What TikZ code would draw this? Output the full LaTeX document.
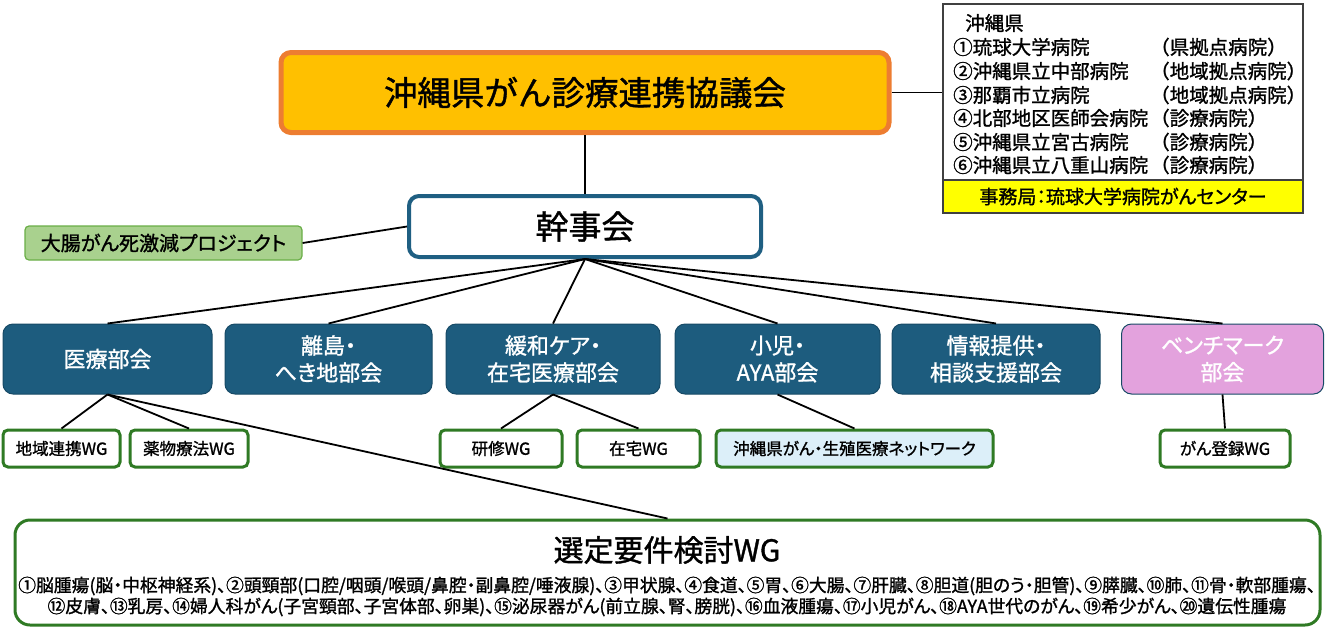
\documentclass[tikz,border=0pt]{standalone}
\usepackage{fontspec}
\setmainfont{Noto Sans CJK JP}[FakeBold=1.2]
\newfontfamily\paltfont{Noto Sans CJK JP}[FakeBold=1.2,RawFeature=+palt]
\definecolor{orfill}{HTML}{FFC000}
\definecolor{orline}{HTML}{ED7D31}
\definecolor{bkfill}{HTML}{1D5C7E}
\definecolor{bkline}{HTML}{174A66}
\definecolor{kjline}{HTML}{1F5F82}
\definecolor{pinkfill}{HTML}{E3A2DD}
\definecolor{wggreen}{HTML}{2F7A24}
\definecolor{pjfill}{HTML}{A9D18E}
\definecolor{pjline}{HTML}{6AAE47}
\definecolor{ltblue}{HTML}{DCEFF9}
\definecolor{ylw}{HTML}{FFFF00}
\begin{document}
\begin{tikzpicture}[x=1pt,y=-1pt,
  conn/.style={line width=1.8pt, black},
  bukai/.style={draw=bkline, fill=bkfill, rounded corners=10pt, line width=1pt, text=white,
    inner sep=0pt, minimum height=70pt, align=center, font=\paltfont\fontsize{22}{27}\selectfont},
  wgbox/.style={draw=wggreen, fill=white, line width=3pt, rounded corners=5pt, inner sep=0pt,
    minimum height=37pt, font=\paltfont\fontsize{16.5}{18}\selectfont},
  rtxt/.style={anchor=west, inner sep=0pt, font=\fontsize{19.5}{22}\selectfont}]
\useasboundingbox (0,0) rectangle (1326,630);

% top
\node[draw=orline, fill=orfill, line width=5pt, rounded corners=10pt, inner sep=0pt,
  minimum width=608pt, minimum height=80pt, font=\fontsize{33.5}{38}\selectfont] (main) at (585,92.5) {沖縄県がん診療連携協議会};

% right box
\node[draw=black!75, line width=1.2pt, fill=white, inner sep=0pt, minimum width=360pt, minimum height=209pt] (rbox) at (1123,108.5) {};
\node[draw=black!75, line width=1.2pt, fill=ylw, inner sep=0pt, minimum width=360pt, minimum height=33pt,
  font=\paltfont\fontsize{19}{22}\selectfont] (jimu) at (1123,196.5) {事務局：琉球大学病院がんセンター};
\node[rtxt] (r0) at (965,23) {沖縄県};
\node[rtxt] (r1) at (953,47) {①琉球大学病院};
\node[rtxt] (r1b) at (1150,47) {（県拠点病院）};
\node[rtxt] (r2) at (953,71) {②沖縄県立中部病院};
\node[rtxt] (r2b) at (1150,71) {（地域拠点病院）};
\node[rtxt] (r3) at (953,95) {③那覇市立病院};
\node[rtxt] (r3b) at (1150,95) {（地域拠点病院）};
\node[rtxt] (r4) at (953,118) {④北部地区医師会病院};
\node[rtxt] (r4b) at (1150,118) {（診療病院）};
\node[rtxt] (r5) at (953,142) {⑤沖縄県立宮古病院};
\node[rtxt] (r5b) at (1150,142) {（診療病院）};
\node[rtxt] (r6) at (953,165) {⑥沖縄県立八重山病院};
\node[rtxt] (r6b) at (1150,165) {（診療病院）};

% kanjikai
\node[draw=kjline, fill=white, line width=4pt, rounded corners=10pt, inner sep=0pt,
  minimum width=352pt, minimum height=61pt, font=\fontsize{33}{38}\selectfont] (kanji) at (585,226.5) {幹事会};
\node[draw=pjline, fill=pjfill, line width=1.2pt, rounded corners=4pt, inner sep=0pt,
  minimum width=277pt, minimum height=34pt, font=\paltfont\fontsize{20}{22}\selectfont] (proj) at (163.5,243) {大腸がん死激減プロジェクト};

% bukai
\node[bukai, minimum width=209pt] (b1) at (107.5,359) {医療部会};
\node[bukai, minimum width=207pt] (b2) at (328.5,359) {離島・\\へき地部会};
\node[bukai, minimum width=214pt] (b3) at (553,359) {緩和ケア・\\在宅医療部会};
\node[bukai, minimum width=205pt] (b4) at (777.5,359) {小児・\\AYA部会};
\node[bukai, minimum width=208pt] (b5) at (996,359) {情報提供・\\相談支援部会};
\node[bukai, fill=pinkfill, minimum width=202pt] (b6) at (1222.5,359) {ベンチマーク\\部会};

% WG
\node[wgbox, minimum width=117pt] (w1) at (61.5,448.5) {地域連携WG};
\node[wgbox, minimum width=118pt] (w2) at (189,448.5) {薬物療法WG};
\node[wgbox, minimum width=122pt] (w3) at (501,448.5) {研修WG};
\node[wgbox, minimum width=123pt] (w4) at (638.5,448.5) {在宅WG};
\node[wgbox, fill=ltblue, minimum width=277pt] (w5) at (854.5,448.5) {沖縄県がん・生殖医療ネットワーク};
\node[wgbox, minimum width=130pt] (w6) at (1225,448.5) {がん登録WG};

% bottom box
\node[draw=wggreen, fill=white, line width=3pt, rounded corners=15pt, inner sep=0pt,
  minimum width=1305pt, minimum height=105pt] (sentei) at (667.5,572.5) {};
\node[inner sep=0pt, font=\fontsize{30}{34}\selectfont] (st) at (667,550) {選定要件検討WG};
\node[inner sep=0pt, font=\paltfont\fontsize{17.8}{20}\selectfont] (l1) at (667,586) {①脳腫瘍(脳・中枢神経系)、②頭頸部(口腔/咽頭/喉頭/鼻腔・副鼻腔/唾液腺)、③甲状腺、④食道、⑤胃、⑥大腸、⑦肝臓、⑧胆道(胆のう・胆管)、⑨膵臓、⑩肺、⑪骨・軟部腫瘍、};
\node[inner sep=0pt, font=\paltfont\fontsize{17.8}{20}\selectfont] (l2) at (667,607) {⑫皮膚、⑬乳房、⑭婦人科がん(子宮頸部、子宮体部、卵巣)、⑮泌尿器がん(前立腺、腎、膀胱)、⑯血液腫瘍、⑰小児がん、⑱AYA世代のがん、⑲希少がん、⑳遺伝性腫瘍};

% connectors
\draw[conn] (main.east) -- (main.east -| rbox.west);
\draw[conn] (main.south) -- (kanji.north);
\draw[conn] (kanji.west) -- (proj.east);
\foreach \b in {b1,b2,b3,b4,b5,b6} \draw[conn] (kanji.south) -- (\b.north);
\draw[conn] (b1.south) -- (w1.north);
\draw[conn] (b1.south) -- (w2.north);
\draw[conn] (b1.south) -- (sentei.north);
\draw[conn] (b3.south) -- (w3.north);
\draw[conn] (b3.south) -- (w4.north);
\draw[conn] (b4.south) -- (w5.north);
\draw[conn] (b6.south) -- (w6.north);
\end{tikzpicture}
\end{document}
